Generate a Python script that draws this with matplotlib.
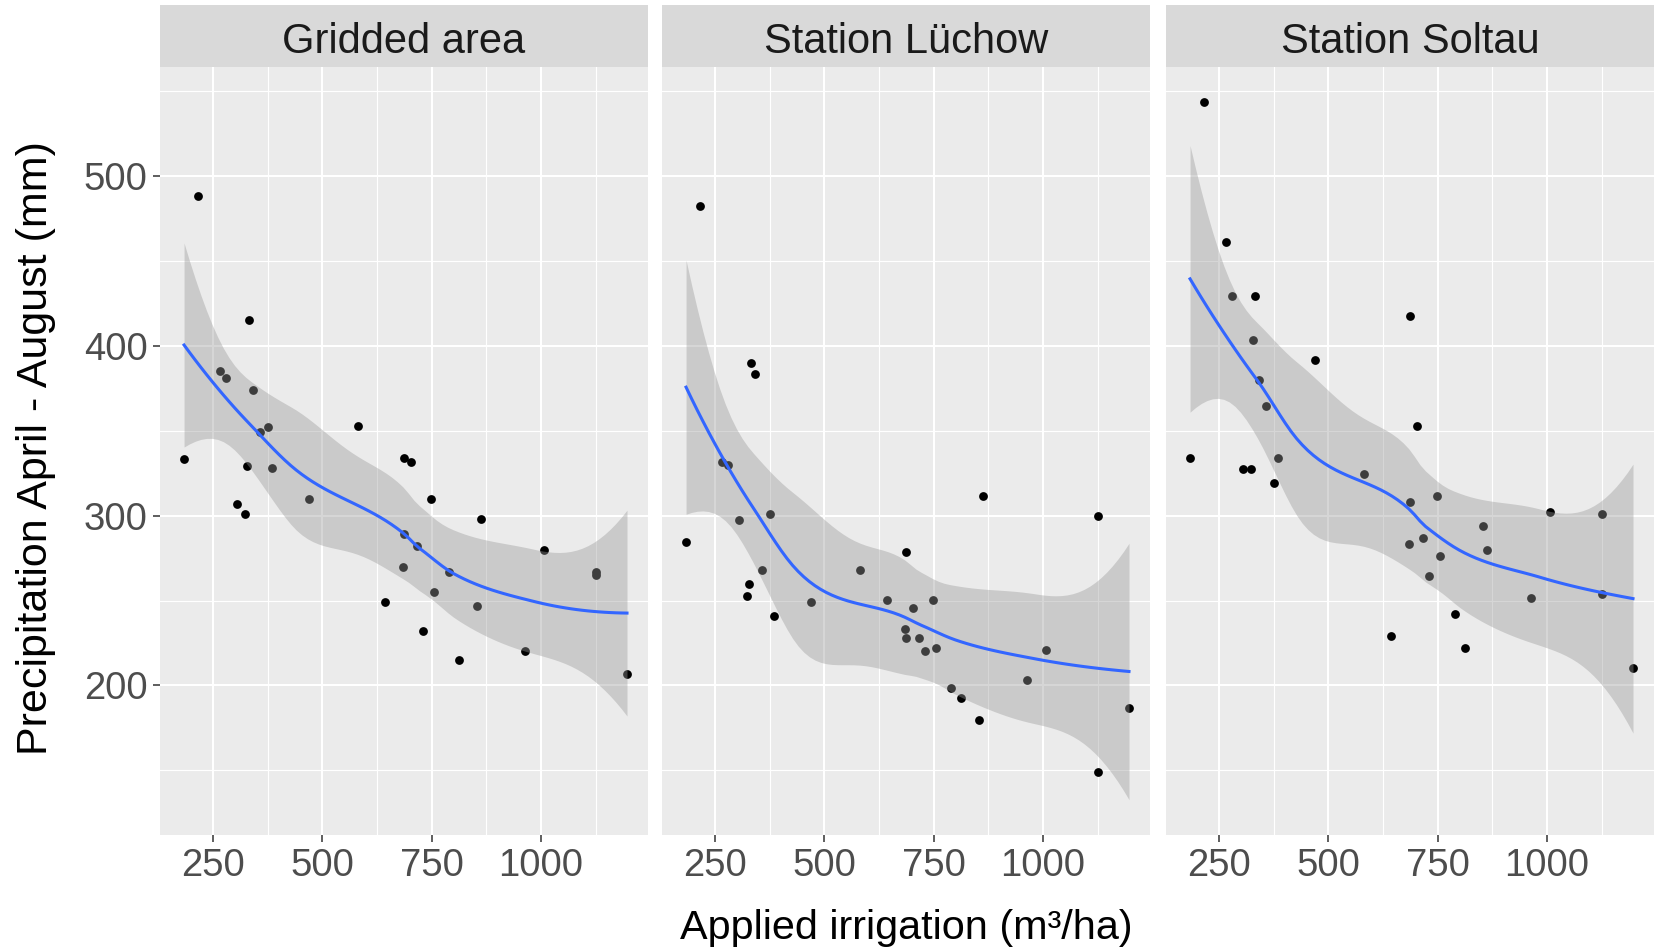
import numpy as np
import matplotlib
matplotlib.use('Agg')
import matplotlib.pyplot as plt
from matplotlib.ticker import MultipleLocator

# irrigation values are the same in all three panels
irrigation = [184, 217, 266, 280, 304, 323, 328, 333, 341, 358, 377, 386, 469, 581, 644, 685,
              687, 688, 702, 716, 730, 749, 755, 790, 812, 854, 862, 963, 1008, 1125, 1125, 1197]
precip_gridded = [333, 488, 385, 381, 307, 301, 329, 415, 374, 349, 352, 328, 310, 353, 249, 270,
                  289, 334, 331.5, 282, 232, 310, 255, 267, 215, 247, 298, 220, 280, 267, 265, 207]
precip_luechow = [284.5, 482, 331.5, 329.6, 297.5, 252.5, 260, 389.5, 383.5, 268, 301, 241, 249, 268, 250.4, 233,
                  228, 278.6, 245.7, 228, 220, 250.4, 222, 198.6, 192.8, 179.6, 311.6, 203, 221, 300, 149, 187]
precip_soltau = [334, 543.5, 461, 429.4, 327.6, 327.6, 403.5, 429.4, 380, 364.7, 319, 334, 391.6, 324.7, 229, 283.3,
                 308, 417.6, 353, 287, 264.5, 311.6, 276, 242, 222, 294, 280, 251.6, 302, 301, 254, 210]
panel_titles = ['Gridded area', 'Station Lüchow', 'Station Soltau']
x_ticks = [250, 500, 750, 1000]
y_ticks = [200, 300, 400, 500]


def loess(x, y, x_new, span=0.75, cell=0.2):
    # loess (degree 2, tricube) with kd-tree vertices + cubic hermite interpolation, as R does
    x = np.asarray(x, float) / 1000.0
    y = np.asarray(y, float)
    x_new = np.asarray(x_new, float) / 1000.0
    n = len(x)
    q = int(np.floor(n * span))
    fc = int(np.floor(n * span * cell))

    def rows(x0):
        d = np.abs(x - x0)
        h = np.sort(d)[q - 1]
        u = np.clip(d / h, 0, 1)
        w = (1 - u ** 3) ** 3
        X = np.column_stack([np.ones(n), x - x0, (x - x0) ** 2])
        XtW = X.T * w
        B = np.linalg.solve(XtW @ X, XtW)
        return B[0], B[1]

    xs = np.sort(x)
    mu = 0.005 * (xs[-1] - xs[0])
    verts = [xs[0] - mu, xs[-1] + mu]

    def split(l, u):
        if u - l + 1 <= fc:
            return
        m = (l + u + 2) // 2 - 1
        verts.append((xs[m] + xs[m + 1]) / 2)
        split(l, m)
        split(m + 1, u)

    split(0, n - 1)
    verts = np.array(sorted(verts))
    V, S = zip(*[rows(v) for v in verts])
    V, S = np.array(V), np.array(S)

    def interp(xq):
        j = np.clip(np.searchsorted(verts, xq) - 1, 0, len(verts) - 2)
        h = verts[j + 1] - verts[j]
        t = (xq - verts[j]) / h
        h00 = 2 * t ** 3 - 3 * t ** 2 + 1
        h10 = t ** 3 - 2 * t ** 2 + t
        h01 = -2 * t ** 3 + 3 * t ** 2
        h11 = t ** 3 - t ** 2
        return h00 * V[j] + h10 * h * S[j] + h01 * V[j + 1] + h11 * h * S[j + 1]

    L = np.array([interp(v) for v in x])
    res = y - L @ y
    I_L = np.eye(n) - L
    M = I_L.T @ I_L
    d1 = np.trace(M)
    d2 = np.trace(M @ M)
    s = np.sqrt(np.sum(res ** 2) / d1)
    df = d1 ** 2 / d2
    Ln = np.array([interp(v) for v in x_new])
    fit = Ln @ y
    se = s * np.sqrt(np.sum(Ln ** 2, axis=1))
    # t quantile (0.975) via Cornish-Fisher expansion
    z = 1.959964
    t = (z + (z ** 3 + z) / (4 * df) + (5 * z ** 5 + 16 * z ** 3 + 3 * z) / (96 * df ** 2)
         + (3 * z ** 7 + 19 * z ** 5 + 17 * z ** 3 - 15 * z) / (384 * df ** 3))
    return fit, fit - t * se, fit + t * se


plt.rcParams['font.family'] = ['Liberation Sans', 'DejaVu Sans']

W, H = 1658, 952
fig = plt.figure(figsize=(W / 100, H / 100), dpi=100)

lefts = [160, 662, 1166]
pw = 488
p_top, p_bot = 67, 835
s_top = 5

series = [precip_gridded, precip_luechow, precip_soltau]
for i, (title, yv) in enumerate(zip(panel_titles, series)):
    ax = fig.add_axes([lefts[i] / W, 1 - p_bot / H, pw / W, (p_bot - p_top) / H])
    ax.set_facecolor('#EBEBEB')
    for sp in ax.spines.values():
        sp.set_visible(False)
    ax.set_xlim(129, 1245)
    ax.set_ylim(112, 564)
    ax.xaxis.set_major_locator(MultipleLocator(250))
    ax.xaxis.set_minor_locator(MultipleLocator(125))
    ax.yaxis.set_major_locator(MultipleLocator(100))
    ax.yaxis.set_minor_locator(MultipleLocator(50))
    ax.set_xticks(x_ticks)
    ax.set_yticks(y_ticks)
    ax.grid(which='major', color='white', lw=1.5)
    ax.grid(which='minor', color='white', lw=0.8)
    ax.set_axisbelow(True)
    ax.tick_params(which='minor', length=0)
    ax.tick_params(which='major', length=5, width=1.1, color='#333333',
                   labelcolor='#4D4D4D', labelsize=27.5, pad=4)
    if i > 0:
        ax.tick_params(axis='y', labelleft=False, length=0)

    ax.scatter(irrigation, yv, s=40, color='black', linewidths=0, zorder=2)
    xs = np.linspace(min(irrigation), max(irrigation), 80)
    fit, lo, hi = loess(irrigation, yv, xs)
    ax.fill_between(xs, lo, hi, color='#999999', alpha=0.4, linewidth=0, zorder=3)
    ax.plot(xs, fit, color='#3366FF', lw=2.2, zorder=4)

    sax = fig.add_axes([lefts[i] / W, 1 - p_top / H, pw / W, (p_top - s_top) / H])
    sax.set_facecolor('#D9D9D9')
    sax.set_xticks([])
    sax.set_yticks([])
    for sp in sax.spines.values():
        sp.set_visible(False)
    sax.text(0.5, 0.40, title, ha='center', va='center', fontsize=30, color='#1A1A1A',
             transform=sax.transAxes)

fig.text(36 / W, 1 - 448 / H, 'Precipitation April - August (mm)', rotation=90,
         ha='center', va='center', fontsize=31)
fig.text(906 / W, 1 - 928 / H, 'Applied irrigation (m³/ha)', ha='center', va='center', fontsize=29.8)

fig.savefig('out.png', dpi=100)
